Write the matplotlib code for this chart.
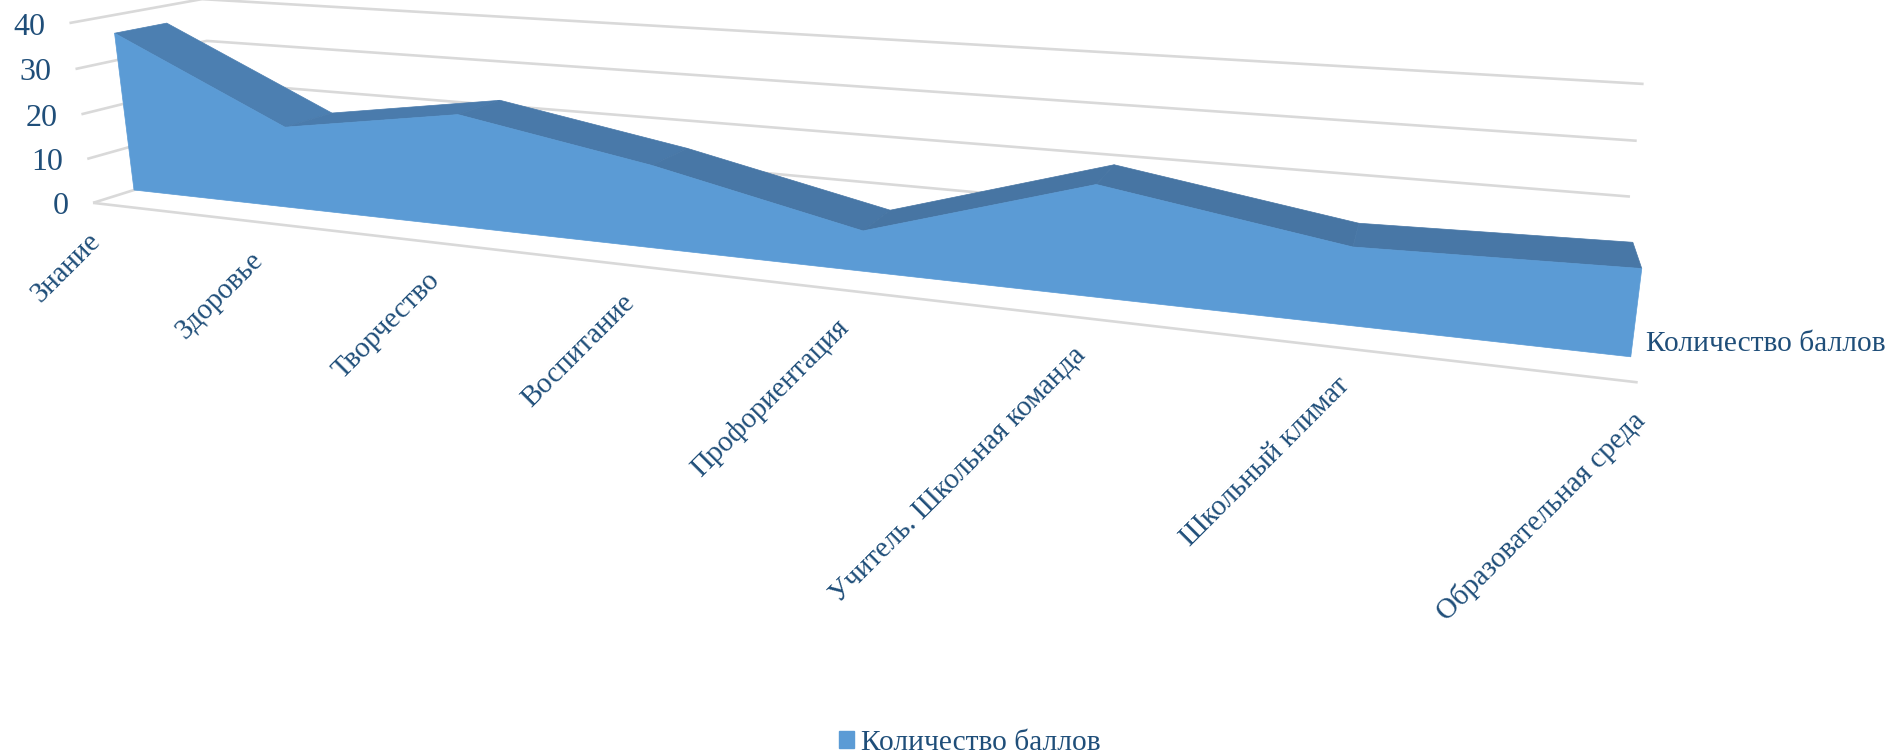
"""Excel-style 3D area chart, drawn with a small perspective projection."""
import numpy as np
import matplotlib
matplotlib.use("Agg")
import matplotlib.pyplot as plt
from matplotlib.patches import Patch, Polygon

categories = ["Знание", "Здоровье", "Творчество", "Воспитание", "Профориентация",
              "Учитель. Школьная команда", "Школьный климат", "Образовательная среда"]
scores = [36, 18, 24, 17, 8, 21, 14, 15]
value_ticks = [0, 10, 20, 30, 40]
series_name = "Количество баллов"

BLUE = "#5B9BD5"
# top strip gets a bit darker towards the right, like the Excel shading
DARKS = ["#4C7FB1", "#4A7BAC", "#4979A9", "#4877A6", "#4775A3", "#4775A3", "#4877A6"]
GRID = "#D9D9D9"
TEXT = "#1F4E79"
FRONT, BACK = -0.762, 1.762   # floor depth; the area itself sits between 0 and 1

plt.rcParams["font.family"] = ["Liberation Serif", "DejaVu Serif"]

# homogeneous camera: (category, depth, value) -> figure pixels
P = np.array([[134.0, 146.8, 57.4, -0.62],
              [190.0, 9.165, -8.97, -4.378],
              [1.0, -0.0411, 0.039, -0.000696]])


def project(c, d, v):
    c, d, v = np.broadcast_arrays(c, d, v)
    q = np.stack([np.ones(c.shape), c, d, v]).astype(float)
    u, y, w = P @ q if q.ndim == 1 else np.tensordot(P, q, axes=1)
    return u / w, y / w


fig = plt.figure(figsize=(18.9, 7.54), dpi=100)
ax = fig.add_axes([0, 0, 1, 1])
ax.set_xlim(0, 1890); ax.set_ylim(754, 0)
ax.axis("off")

cats = np.arange(len(categories))
last = cats[-1]
vals = np.array(scores, dtype=float)

# walls and floor
for t in value_ticks:
    x, y = project(np.array([0, 0, last]), np.array([FRONT, BACK, BACK]), t)
    ax.plot(x, y, color=GRID, lw=1.9, solid_capstyle="butt", zorder=1)
    ax.text(x[0] - 24, y[0] + 4, str(t), ha="right", va="center", fontsize=23, color=TEXT)
x, y = project(np.array([0, last]), FRONT, 0)
ax.plot(x, y, color=GRID, lw=1.9, solid_capstyle="butt", zorder=1)

# top of the area, one strip per segment
fx, fy = project(cats, 0, vals)
bx, by = project(cats, 1, vals)
for i in cats[:-1]:
    quad = np.array([[fx[i], fy[i]], [fx[i + 1], fy[i + 1]], [bx[i + 1], by[i + 1]], [bx[i], by[i]]])
    ax.add_patch(Polygon(quad, fc=DARKS[i], ec=DARKS[i], lw=0.5, zorder=2))

# front face
bax, bay = project(np.array([0, last]), 0, 0)
outline = np.column_stack([np.r_[fx, bax[::-1]], np.r_[fy, bay[::-1]]])
ax.add_patch(Polygon(outline, fc=BLUE, ec=BLUE, lw=0.5, zorder=3))

# category labels
lx, ly = project(cats, FRONT, 0)
for name, x, y in zip(categories, lx, ly):
    ax.text(x + 3.5, y + 34, name, rotation=45, rotation_mode="anchor", ha="right", va="center",
            fontsize=20.8, color=TEXT)

# series axis label and legend
ax.text(1646, 344, series_name, ha="left", va="center", fontsize=21.2, color=TEXT)
ax.legend(handles=[Patch(fc=BLUE, ec=BLUE, label=series_name)], loc="center",
          bbox_to_anchor=(0.5132, 0.0145), frameon=False, fontsize=21.2, labelcolor=TEXT,
          handlelength=0.5, handleheight=0.5, handletextpad=0.25, borderpad=0, borderaxespad=0)

fig.savefig("out.png", dpi=100)
